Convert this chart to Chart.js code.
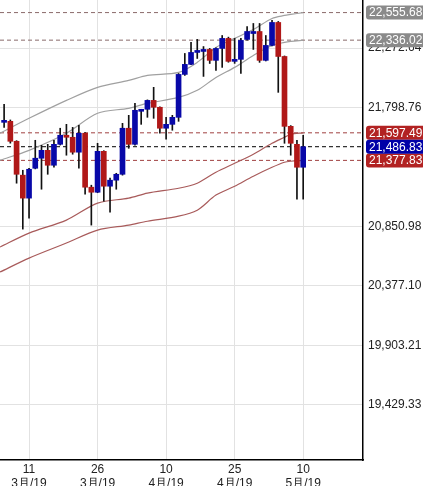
<!DOCTYPE html>
<html><head><meta charset="utf-8">
<script src="https://cdn.jsdelivr.net/npm/chart.js@4/dist/chart.umd.min.js"></script>
<style>html,body{margin:0;padding:0;background:#fff;overflow:hidden}#w{width:423px;height:486px;position:relative;overflow:hidden}#c{position:absolute;left:0;top:0}</style>
</head><body><div id="w"><canvas id="c" width="423" height="486"></canvas></div>
<script>
const opens  = [21681,21689,21530,21260,21077,21315,21395,21458,21339,21506,21578,21562,21443,21594,21164,21124,21450,21172,21220,21267,21634,21506,21769,21785,21856,21801,21634,21665,21721,22063,22143,22238,22246,22262,22175,22270,22350,22167,22183,22342,22389,22405,22175,22294,22477,22206,21649,21506,21323];
const highs  = [21824,21700,21535,21299,21315,21538,21498,21506,21538,21634,21665,21641,21657,21600,21180,21514,21455,21236,21275,21673,21737,21832,21785,21860,21960,21805,21721,21737,22070,22230,22318,22342,22285,22270,22275,22373,22360,22350,22350,22445,22469,22469,22373,22493,22485,22210,21655,21538,21578];
const lows   = [21641,21515,21196,20830,20917,21310,21148,21267,21323,21500,21419,21427,21315,21108,20862,21120,21053,20965,21148,21260,21474,21500,21665,21721,21713,21594,21546,21618,21689,22055,22140,22190,22047,22150,22095,22119,22160,22151,22071,22335,22262,22159,22170,22290,21920,21514,21419,21069,21069];
const closes = [21689,21530,21267,21077,21307,21395,21458,21339,21506,21578,21562,21443,21594,21164,21124,21450,21172,21220,21267,21634,21506,21777,21777,21856,21801,21634,21665,21721,22063,22143,22238,22254,22262,22175,22270,22350,22167,22183,22334,22405,22405,22175,22294,22477,22206,21649,21514,21323,21486.83];
const bandIdx   = [-0.66,4,10,15,20,23,28,31,34,37,40,43,45,46,48];
const upper2    = [21594,21713,21856,21960,22015,22055,22079,22159,22278,22350,22421,22509,22533,22541,22555.68];
const upper1    = [21379,21458,21594,21753,21793,21832,21880,21936,22039,22119,22214,22294,22318,22326,22336.02];
const lower1    = [20687,20798,20902,21037,21077,21117,21156,21196,21284,21355,21427,21514,21562,21586,21597.49];
const lower2    = [20488,20599,20719,20822,20862,20893,20933,20981,21101,21172,21252,21323,21363,21371,21377.83];
const yTicks    = [22272.64,21798.76,20850.98,20377.10,19903.21,19429.33];
const xTickIdx  = [4,15,26,37,48];
const xTickLbl  = [['11','3月/19'],['26','3月/19'],['10','4月/19'],['25','4月/19'],['10','5月/19']];
const markers   = [
  {v:22555.68, bg:'#8a8a8a', line:'#8a6a6a'},
  {v:22336.02, bg:'#8a8a8a', line:'#8a6a6a'},
  {v:21597.49, bg:'#b22222', line:'#a04040'},
  {v:21377.83, bg:'#b22222', line:'#a04040'},
  {v:21486.83, bg:'#0000a8', line:'#000000'}
];
const XMIN=-0.66, XMAX=57.6, YMIN=18990, YMAX=22656;
const RED='#b01818', BLUE='#0808a8';
const up = closes.map((c,i)=>c>=opens[i]);
const idx = opens.map((_,i)=>i);

const datasets = [];
markers.forEach(m=>datasets.push({type:'line',data:[{x:XMIN,y:m.v},{x:XMAX,y:m.v}],borderColor:m.line,borderWidth:1,borderDash:[4,3],pointRadius:0,order:5}));
[[upper2,'#a0a0a0'],[upper1,'#a0a0a0'],[lower1,'#a85a5a'],[lower2,'#a85a5a']].forEach(([arr,col])=>
  datasets.push({type:'line',data:arr.map((v,i)=>({x:bandIdx[i],y:v})),borderColor:col,borderWidth:1.2,pointRadius:0,tension:0.3,order:4}));
datasets.push({type:'bar',data:idx.map(i=>({x:i,y:[lows[i],highs[i]]})),backgroundColor:'#111',barThickness:1,order:2,grouped:false});
datasets.push({type:'bar',data:idx.map(i=>({x:i,y:[opens[i],closes[i]]})),backgroundColor:idx.map(i=>up[i]?BLUE:RED),barThickness:5,minBarLength:2,order:1,grouped:false});

const boxes = {id:'boxes',afterDraw(ch){
  const ctx=ch.ctx, y=ch.scales.y, a=ch.chartArea;
  ctx.save();
  ctx.font='12px "Liberation Sans", Arial, sans-serif';
  markers.forEach(m=>{
    const py=y.getPixelForValue(m.v), t=m.v.toLocaleString('en-US',{minimumFractionDigits:2});
    const w=ctx.measureText(t).width+6, x0=a.right+3;
    ctx.fillStyle=m.bg; ctx.beginPath(); ctx.roundRect(x0,py-7,w,14,3); ctx.fill();
    ctx.fillStyle='#fff'; ctx.textBaseline='middle'; ctx.fillText(t,x0+3,py+0.5);
  });
  ctx.restore();
}};
const fixTop = {id:'fixTop',beforeLayout(){},afterLayout(ch){}};

new Chart(document.getElementById('c'),{
  data:{datasets},
  options:{responsive:false,animation:false,devicePixelRatio:1,
    layout:{padding:{top:0,left:0,right:0,bottom:0}},
    plugins:{legend:{display:false},tooltip:{enabled:false}},
    scales:{
      x:{type:'linear',min:XMIN,max:XMAX,offset:false,
        afterBuildTicks:s=>{s.ticks=xTickIdx.map(v=>({value:v}));},
        afterFit:s=>{s.height=26;},
        ticks:{autoSkip:false,maxRotation:0,padding:2,color:'#222',font:{size:12,family:'"Liberation Sans", Arial'},
          callback:(v)=>{const k=xTickIdx.indexOf(v);return k>=0?xTickLbl[k]:'';}},
        grid:{color:'#e2e2e2',drawTicks:false,offset:false},border:{color:'#000',width:1.5}},
      y:{type:'linear',position:'right',min:YMIN,max:YMAX,
        afterBuildTicks:s=>{s.ticks=yTicks.map(v=>({value:v}));},
        afterFit:s=>{s.width=60;s.paddingTop=0;s.paddingBottom=0;},
        ticks:{padding:5,color:'#222',font:{size:12,family:'"Liberation Sans", Arial'},
          callback:v=>v.toLocaleString('en-US',{minimumFractionDigits:2})},
        grid:{color:'#e2e2e2',drawTicks:false},border:{color:'#000',width:1.5}}
    }},
  plugins:[boxes]
});
</script></body></html>
